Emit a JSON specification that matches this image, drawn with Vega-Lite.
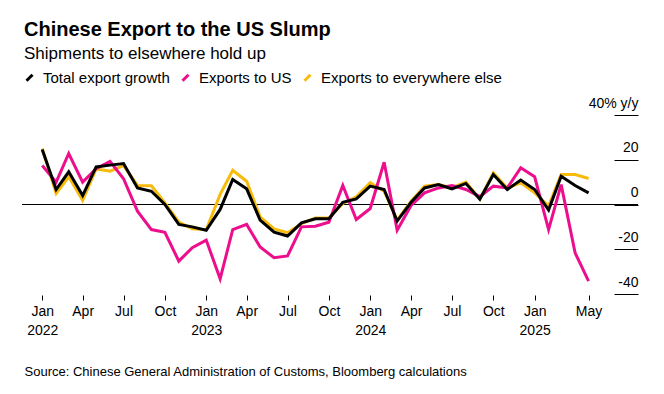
{
  "$schema": "https://vega.github.io/schema/vega-lite/v6.json",
  "width": 616,
  "height": 179,
  "autosize": {"type": "none"},
  "padding": {"left": 22, "top": 115, "right": 26, "bottom": 100},
  "background": "white",
  "config": {
    "font": "Liberation Sans",
    "view": {"stroke": null}
  },
  "title": {
    "text": "Chinese Export to the US Slump",
    "subtitle": "Shipments to elsewhere hold up",
    "anchor": "start",
    "frame": "group",
    "offset": 8,
    "dx": 2,
    "fontSize": 20,
    "fontWeight": "bold",
    "color": "#000000",
    "subtitleFontSize": 17,
    "subtitleColor": "#000000",
    "subtitlePadding": 6
  },
  "datasets": {
    "exports": [
      {"date": "2022-01-01", "series": "Exports to everywhere else", "value": 25},
      {"date": "2022-02-01", "series": "Exports to everywhere else", "value": 4.9},
      {"date": "2022-03-01", "series": "Exports to everywhere else", "value": 12.4},
      {"date": "2022-04-01", "series": "Exports to everywhere else", "value": 1.8},
      {"date": "2022-05-01", "series": "Exports to everywhere else", "value": 15.9},
      {"date": "2022-06-01", "series": "Exports to everywhere else", "value": 14.9},
      {"date": "2022-07-01", "series": "Exports to everywhere else", "value": 17.4},
      {"date": "2022-08-01", "series": "Exports to everywhere else", "value": 8.5},
      {"date": "2022-09-01", "series": "Exports to everywhere else", "value": 8.4},
      {"date": "2022-10-01", "series": "Exports to everywhere else", "value": 0.7},
      {"date": "2022-11-01", "series": "Exports to everywhere else", "value": -7.9},
      {"date": "2022-12-01", "series": "Exports to everywhere else", "value": -10.9},
      {"date": "2023-01-01", "series": "Exports to everywhere else", "value": -11.3},
      {"date": "2023-02-01", "series": "Exports to everywhere else", "value": 4.5},
      {"date": "2023-03-01", "series": "Exports to everywhere else", "value": 15.3},
      {"date": "2023-04-01", "series": "Exports to everywhere else", "value": 10.4},
      {"date": "2023-05-01", "series": "Exports to everywhere else", "value": -5.5},
      {"date": "2023-06-01", "series": "Exports to everywhere else", "value": -10.9},
      {"date": "2023-07-01", "series": "Exports to everywhere else", "value": -12.6},
      {"date": "2023-08-01", "series": "Exports to everywhere else", "value": -8.5},
      {"date": "2023-09-01", "series": "Exports to everywhere else", "value": -6},
      {"date": "2023-10-01", "series": "Exports to everywhere else", "value": -6},
      {"date": "2023-11-01", "series": "Exports to everywhere else", "value": 0.5},
      {"date": "2023-12-01", "series": "Exports to everywhere else", "value": 3.4},
      {"date": "2024-01-01", "series": "Exports to everywhere else", "value": 9.8},
      {"date": "2024-02-01", "series": "Exports to everywhere else", "value": 5.9},
      {"date": "2024-03-01", "series": "Exports to everywhere else", "value": -7},
      {"date": "2024-04-01", "series": "Exports to everywhere else", "value": 1.5},
      {"date": "2024-05-01", "series": "Exports to everywhere else", "value": 8.2},
      {"date": "2024-06-01", "series": "Exports to everywhere else", "value": 8.9},
      {"date": "2024-07-01", "series": "Exports to everywhere else", "value": 7.5},
      {"date": "2024-08-01", "series": "Exports to everywhere else", "value": 10},
      {"date": "2024-09-01", "series": "Exports to everywhere else", "value": 2.4},
      {"date": "2024-10-01", "series": "Exports to everywhere else", "value": 14.1},
      {"date": "2024-11-01", "series": "Exports to everywhere else", "value": 7.4},
      {"date": "2024-12-01", "series": "Exports to everywhere else", "value": 9.7},
      {"date": "2025-01-01", "series": "Exports to everywhere else", "value": 5.2},
      {"date": "2025-02-01", "series": "Exports to everywhere else", "value": -0.7},
      {"date": "2025-03-01", "series": "Exports to everywhere else", "value": 13.4},
      {"date": "2025-04-01", "series": "Exports to everywhere else", "value": 13.4},
      {"date": "2025-05-01", "series": "Exports to everywhere else", "value": 11.6},
      {"date": "2022-01-01", "series": "Exports to US", "value": 17.4},
      {"date": "2022-02-01", "series": "Exports to US", "value": 10},
      {"date": "2022-03-01", "series": "Exports to US", "value": 22.8},
      {"date": "2022-04-01", "series": "Exports to US", "value": 10},
      {"date": "2022-05-01", "series": "Exports to US", "value": 16},
      {"date": "2022-06-01", "series": "Exports to US", "value": 19.3},
      {"date": "2022-07-01", "series": "Exports to US", "value": 11.5},
      {"date": "2022-08-01", "series": "Exports to US", "value": -3},
      {"date": "2022-09-01", "series": "Exports to US", "value": -11.2},
      {"date": "2022-10-01", "series": "Exports to US", "value": -12.4},
      {"date": "2022-11-01", "series": "Exports to US", "value": -25.3},
      {"date": "2022-12-01", "series": "Exports to US", "value": -19.3},
      {"date": "2023-01-01", "series": "Exports to US", "value": -15.9},
      {"date": "2023-02-01", "series": "Exports to US", "value": -33.2},
      {"date": "2023-03-01", "series": "Exports to US", "value": -11.2},
      {"date": "2023-04-01", "series": "Exports to US", "value": -8.9},
      {"date": "2023-05-01", "series": "Exports to US", "value": -19},
      {"date": "2023-06-01", "series": "Exports to US", "value": -23.8},
      {"date": "2023-07-01", "series": "Exports to US", "value": -23},
      {"date": "2023-08-01", "series": "Exports to US", "value": -10},
      {"date": "2023-09-01", "series": "Exports to US", "value": -9.7},
      {"date": "2023-10-01", "series": "Exports to US", "value": -7.9},
      {"date": "2023-11-01", "series": "Exports to US", "value": 8.5},
      {"date": "2023-12-01", "series": "Exports to US", "value": -6.7},
      {"date": "2024-01-01", "series": "Exports to US", "value": -1.8},
      {"date": "2024-02-01", "series": "Exports to US", "value": 18.9},
      {"date": "2024-03-01", "series": "Exports to US", "value": -11.5},
      {"date": "2024-04-01", "series": "Exports to US", "value": -0.4},
      {"date": "2024-05-01", "series": "Exports to US", "value": 5.2},
      {"date": "2024-06-01", "series": "Exports to US", "value": 7.4},
      {"date": "2024-07-01", "series": "Exports to US", "value": 8.5},
      {"date": "2024-08-01", "series": "Exports to US", "value": 6.7},
      {"date": "2024-09-01", "series": "Exports to US", "value": 3.5},
      {"date": "2024-10-01", "series": "Exports to US", "value": 8.2},
      {"date": "2024-11-01", "series": "Exports to US", "value": 7.4},
      {"date": "2024-12-01", "series": "Exports to US", "value": 16.4},
      {"date": "2025-01-01", "series": "Exports to US", "value": 12.4},
      {"date": "2025-02-01", "series": "Exports to US", "value": -11.2},
      {"date": "2025-03-01", "series": "Exports to US", "value": 8.9},
      {"date": "2025-04-01", "series": "Exports to US", "value": -21.6},
      {"date": "2025-05-01", "series": "Exports to US", "value": -34.2},
      {"date": "2022-01-01", "series": "Total export growth", "value": 24.6},
      {"date": "2022-02-01", "series": "Total export growth", "value": 6.7},
      {"date": "2022-03-01", "series": "Total export growth", "value": 14.6},
      {"date": "2022-04-01", "series": "Total export growth", "value": 4},
      {"date": "2022-05-01", "series": "Total export growth", "value": 16.8},
      {"date": "2022-06-01", "series": "Total export growth", "value": 17.6},
      {"date": "2022-07-01", "series": "Total export growth", "value": 18.3},
      {"date": "2022-08-01", "series": "Total export growth", "value": 7.4},
      {"date": "2022-09-01", "series": "Total export growth", "value": 5.9},
      {"date": "2022-10-01", "series": "Total export growth", "value": 0},
      {"date": "2022-11-01", "series": "Total export growth", "value": -8.9},
      {"date": "2022-12-01", "series": "Total export growth", "value": -10},
      {"date": "2023-01-01", "series": "Total export growth", "value": -11.5},
      {"date": "2023-02-01", "series": "Total export growth", "value": -2.2},
      {"date": "2023-03-01", "series": "Total export growth", "value": 11.2},
      {"date": "2023-04-01", "series": "Total export growth", "value": 7},
      {"date": "2023-05-01", "series": "Total export growth", "value": -7},
      {"date": "2023-06-01", "series": "Total export growth", "value": -12.4},
      {"date": "2023-07-01", "series": "Total export growth", "value": -14.1},
      {"date": "2023-08-01", "series": "Total export growth", "value": -8.2},
      {"date": "2023-09-01", "series": "Total export growth", "value": -6.4},
      {"date": "2023-10-01", "series": "Total export growth", "value": -6.4},
      {"date": "2023-11-01", "series": "Total export growth", "value": 1},
      {"date": "2023-12-01", "series": "Total export growth", "value": 2.5},
      {"date": "2024-01-01", "series": "Total export growth", "value": 8.2},
      {"date": "2024-02-01", "series": "Total export growth", "value": 6.7},
      {"date": "2024-03-01", "series": "Total export growth", "value": -7.4},
      {"date": "2024-04-01", "series": "Total export growth", "value": 1},
      {"date": "2024-05-01", "series": "Total export growth", "value": 7.4},
      {"date": "2024-06-01", "series": "Total export growth", "value": 8.9},
      {"date": "2024-07-01", "series": "Total export growth", "value": 7},
      {"date": "2024-08-01", "series": "Total export growth", "value": 9.4},
      {"date": "2024-09-01", "series": "Total export growth", "value": 2.4},
      {"date": "2024-10-01", "series": "Total export growth", "value": 13.4},
      {"date": "2024-11-01", "series": "Total export growth", "value": 6.7},
      {"date": "2024-12-01", "series": "Total export growth", "value": 10.9},
      {"date": "2025-01-01", "series": "Total export growth", "value": 6.7},
      {"date": "2025-02-01", "series": "Total export growth", "value": -2.5},
      {"date": "2025-03-01", "series": "Total export growth", "value": 12.6},
      {"date": "2025-04-01", "series": "Total export growth", "value": 8.5},
      {"date": "2025-05-01", "series": "Total export growth", "value": 5.2}
    ]
  },
  "layer": [
    {
      "data": {"values": [{"zero": 0}]},
      "mark": {"type": "rule", "color": "#000000", "strokeWidth": 1},
      "encoding": {
        "y": {"field": "zero", "type": "quantitative", "scale": {"domain": [-40, 40]}}
      }
    },
    {
      "data": {"name": "exports"},
      "mark": {"type": "line", "strokeWidth": 3, "strokeJoin": "miter", "strokeMiterLimit": 4},
      "encoding": {
        "x": {
          "field": "date",
          "type": "temporal",
          "scale": {
            "type": "utc",
            "domain": [
              {"year": 2021, "month": 11, "date": 17, "utc": true},
              {"year": 2025, "month": 8, "date": 19, "utc": true}
            ]
          },
          "axis": {
            "values": [
              {"year": 2022, "month": 1, "date": 1, "utc": true},
              {"year": 2022, "month": 4, "date": 1, "utc": true},
              {"year": 2022, "month": 7, "date": 1, "utc": true},
              {"year": 2022, "month": 10, "date": 1, "utc": true},
              {"year": 2023, "month": 1, "date": 1, "utc": true},
              {"year": 2023, "month": 4, "date": 1, "utc": true},
              {"year": 2023, "month": 7, "date": 1, "utc": true},
              {"year": 2023, "month": 10, "date": 1, "utc": true},
              {"year": 2024, "month": 1, "date": 1, "utc": true},
              {"year": 2024, "month": 4, "date": 1, "utc": true},
              {"year": 2024, "month": 7, "date": 1, "utc": true},
              {"year": 2024, "month": 10, "date": 1, "utc": true},
              {"year": 2025, "month": 1, "date": 1, "utc": true},
              {"year": 2025, "month": 5, "date": 1, "utc": true}
            ],
            "labelExpr": "utcmonth(datum.value) == 0 ? [utcFormat(datum.value, '%b'), utcFormat(datum.value, '%Y')] : utcFormat(datum.value, '%b')",
            "domain": false,
            "grid": false,
            "ticks": true,
            "tickSize": 5,
            "tickColor": "#000000",
            "tickWidth": 1,
            "offset": 1,
            "labelPadding": 4,
            "labelFontSize": 14,
            "labelColor": "#000000",
            "labelLineHeight": 19,
            "labelFlush": false,
            "labelOverlap": false,
            "title": "Source: Chinese General Administration of Customs, Bloomberg calculations",
            "titleAnchor": "start",
            "titleAlign": "left",
            "titleX": 2,
            "titleY": 80,
            "titleBaseline": "alphabetic",
            "titleFontSize": 13,
            "titleFontWeight": "normal",
            "titleColor": "#000000"
          }
        },
        "y": {
          "field": "value",
          "type": "quantitative",
          "scale": {"domain": [-40, 40]},
          "axis": {
            "orient": "right",
            "values": [-40, -20, 0, 20, 40],
            "labelExpr": "datum.value == 40 ? '40% y/y' : '' + datum.value",
            "domain": false,
            "grid": false,
            "ticks": true,
            "tickSize": -24,
            "tickColor": "#000000",
            "tickWidth": 1,
            "labelAlign": "right",
            "labelBaseline": "alphabetic",
            "labelPadding": 24,
            "labelOffset": -8,
            "labelFontSize": 14,
            "labelColor": "#000000",
            "title": null
          }
        },
        "color": {
          "field": "series",
          "type": "nominal",
          "scale": {
            "domain": ["Total export growth", "Exports to US", "Exports to everywhere else"],
            "range": ["#000000", "#ec0e8c", "#f7bb0b"]
          },
          "legend": {
            "title": null,
            "orient": "none",
            "legendX": 0,
            "legendY": -45,
            "direction": "horizontal",
            "symbolType": "M-0.6,0.6L0.6,-0.6",
            "symbolSize": 100,
            "symbolStrokeWidth": 3,
            "labelFontSize": 15,
            "labelLimit": 0,
            "labelColor": "#000000",
            "labelOffset": 6,
            "columnPadding": 6
          }
        }
      }
    }
  ]
}
